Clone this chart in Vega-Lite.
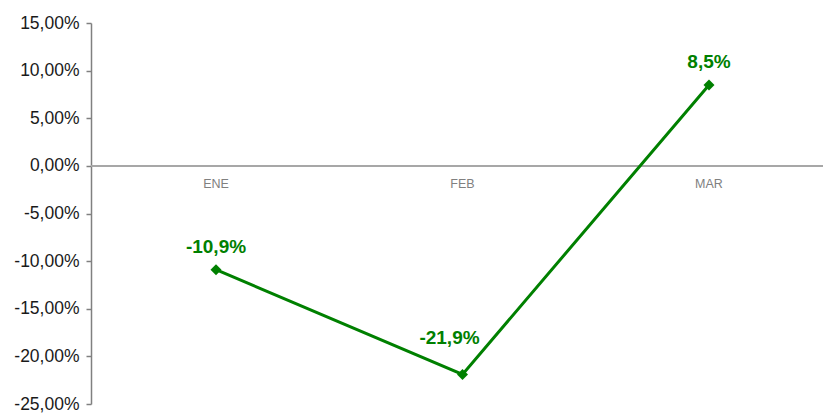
{
  "$schema": "https://vega.github.io/schema/vega-lite/v6.json",
  "width": 732,
  "height": 381,
  "autosize": {"type": "none"},
  "padding": {"left": 91, "top": 23, "right": 0, "bottom": 9},
  "config": {
    "view": {"stroke": null},
    "font": "Liberation Sans",
    "locale": {"number": {"decimal": ",", "thousands": ".", "grouping": [3], "currency": ["", "€"], "minus": "-"}}
  },
  "data": {"values": [
    {"mes": "ENE", "valor": -0.109},
    {"mes": "FEB", "valor": -0.219},
    {"mes": "MAR", "valor": 0.085}
  ]},
  "layer": [
    {
      "mark": {"type": "rule", "color": "#a6a6a6", "strokeWidth": 1.5},
      "encoding": {
        "y": {"datum": 0, "type": "quantitative", "scale": {"domain": [-0.25, 0.15], "nice": false, "zero": false}}
      }
    },
    {
      "mark": {"type": "text", "color": "#808080", "fontSize": 12.5, "dy": 18},
      "encoding": {
        "x": {"field": "mes", "type": "ordinal", "sort": null, "scale": {"type": "point", "range": [125, 618], "padding": 0}, "axis": null},
        "y": {"datum": 0, "type": "quantitative"},
        "text": {"field": "mes"}
      }
    },
    {
      "mark": {"type": "line", "color": "#008000", "strokeWidth": 3,
        "point": {"shape": "diamond", "size": 120, "filled": true, "color": "#008000", "opacity": 1}},
      "encoding": {
        "x": {"field": "mes", "type": "ordinal", "sort": null, "scale": {"type": "point", "range": [125, 618], "padding": 0}, "axis": null},
        "y": {"field": "valor", "type": "quantitative",
          "axis": {
            "values": [-0.25, -0.2, -0.15, -0.1, -0.05, 0, 0.05, 0.1, 0.15],
            "format": ".2%", "title": null, "grid": false,
            "labelFontSize": 17.5, "labelColor": "#1a1a1a", "labelPadding": 7,
            "domainColor": "#808080", "domainWidth": 1.5, "tickColor": "#808080", "tickSize": 5, "tickWidth": 1.5
          }}
      }
    },
    {
      "transform": [{"filter": "datum.mes !== 'FEB'"}],
      "mark": {"type": "text", "color": "#008000", "fontSize": 19, "fontWeight": "bold", "dy": -23},
      "encoding": {
        "x": {"field": "mes", "type": "ordinal", "sort": null, "scale": {"type": "point", "range": [125, 618], "padding": 0}, "axis": null},
        "y": {"field": "valor", "type": "quantitative"},
        "text": {"field": "valor", "type": "quantitative", "format": ".1%"}
      }
    },
    {
      "transform": [{"filter": "datum.mes === 'FEB'"}],
      "mark": {"type": "text", "color": "#008000", "fontSize": 19, "fontWeight": "bold", "dy": -36, "dx": -13},
      "encoding": {
        "x": {"field": "mes", "type": "ordinal", "sort": null, "scale": {"type": "point", "range": [125, 618], "padding": 0}, "axis": null},
        "y": {"field": "valor", "type": "quantitative"},
        "text": {"field": "valor", "type": "quantitative", "format": ".1%"}
      }
    }
  ]
}
